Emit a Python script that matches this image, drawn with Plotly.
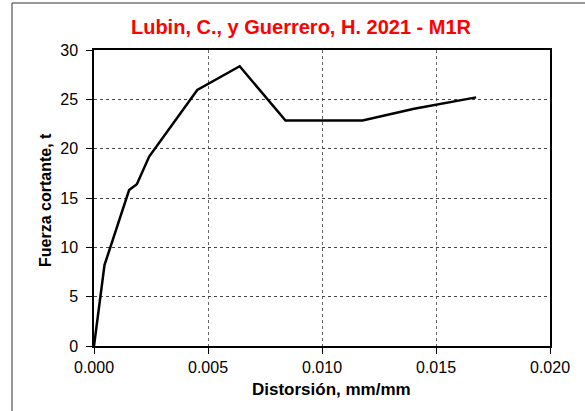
import plotly.graph_objects as go

distorsion = [0.0, 0.00046, 0.00154, 0.00188, 0.00242, 0.00453, 0.00639, 0.0084, 0.01178, 0.01404, 0.01676]
fuerza = [0.0, 8.2, 15.8, 16.4, 19.2, 25.95, 28.35, 22.85, 22.85, 24.05, 25.2]

title_text = "Lubin, C., y Guerrero, H. 2021 - M1R"
x_title = "Distorsión, mm/mm"
y_title = "Fuerza cortante, t"

W, H = 585, 411
L, R, T, B = 94, 35, 50, 65
pw, ph = W - L - R, H - T - B

fig = go.Figure()
fig.add_trace(go.Scatter(x=distorsion, y=fuerza, mode="lines",
                         line=dict(color="black", width=2.5), showlegend=False))

font_family = "Liberation Sans, Arial, sans-serif"
fig.update_layout(
    width=W, height=H,
    margin=dict(l=L, r=R, t=T, b=B, autoexpand=False),
    paper_bgcolor="white", plot_bgcolor="white",
    font=dict(family=font_family, color="black"),
    title=dict(text="<b>" + title_text + "</b>", x=301 / W, xref="container", xanchor="center",
               y=1 - 27 / H, yref="container", yanchor="middle",
               font=dict(size=20, color="#ff0000", family=font_family)),
)
fig.update_xaxes(range=[0, 0.02], dtick=0.005, tickformat=".3f", automargin=False,
                 showline=True, mirror=True, linecolor="black", linewidth=1.5,
                 ticks="outside", ticklen=6, tickcolor="black",
                 showgrid=True, gridcolor="#666666", griddash="dot", gridwidth=1,
                 zeroline=False, tickfont=dict(size=16))
fig.update_yaxes(range=[0, 30], dtick=5, automargin=False,
                 showline=True, mirror=True, linecolor="black", linewidth=1.5,
                 ticks="outside", ticklen=6, tickcolor="black", ticklabelstandoff=5,
                 showgrid=True, gridcolor="#444444", griddash="dot", gridwidth=1,
                 zeroline=False, tickfont=dict(size=16))

fig.add_annotation(text="<b>" + x_title + "</b>", xref="paper", yref="paper",
                   x=(331 - L) / pw, y=(H - B - 389) / ph, xanchor="center", yanchor="middle",
                   showarrow=False, font=dict(size=17, color="black"))
fig.add_annotation(text="<b>" + y_title + "</b>", xref="paper", yref="paper",
                   x=(45 - L) / pw, y=(H - B - 200) / ph, xanchor="center", yanchor="middle",
                   textangle=-90, showarrow=False, font=dict(size=16, color="black"))

# outer chart border (left and top edges visible)
bx = (12 - L) / pw
by = (H - B - 3) / ph
fig.add_shape(type="line", xref="paper", yref="paper", x0=bx, x1=bx, y0=by, y1=-0.5,
              line=dict(color="#333333", width=1))
fig.add_shape(type="line", xref="paper", yref="paper", x0=bx, x1=1.5, y0=by, y1=by,
              line=dict(color="#333333", width=1))

fig.write_html("out.html", config={"displayModeBar": False},
               post_script="document.body.style.margin='0';document.body.style.overflow='hidden';")
